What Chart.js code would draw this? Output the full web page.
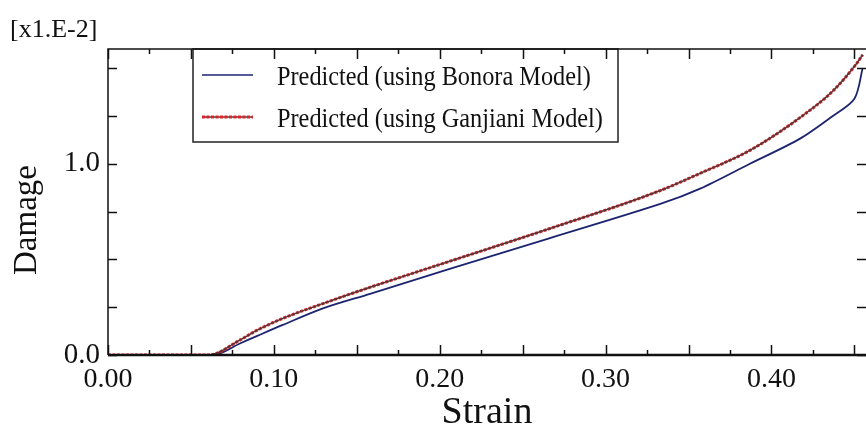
<!DOCTYPE html>
<html>
<head>
<meta charset="utf-8">
<script src="https://cdn.jsdelivr.net/npm/chart.js@4"></script>
<style>
  html, body { margin: 0; padding: 0; background: #fff; }
  #wrap { width: 866px; height: 432px; position: relative; }
</style>
</head>
<body>
<div id="wrap"><canvas id="grafic"></canvas></div>
<script>
// damage values are in units of 1e-2 (see the corner label)
const strainBonora   = [0, 0.064, 0.0795, 0.09, 0.105, 0.13, 0.158, 0.206, 0.266, 0.333, 0.357, 0.387, 0.417, 0.437, 0.450, 0.455];
const damageBonora   = [0, 0,     0.06,   0.10, 0.156, 0.245, 0.32, 0.45,  0.61,  0.79,  0.87,  1.00,  1.13,  1.25,  1.34,  1.50];
const strainGanjiani = [0, 0.061, 0.0795, 0.09, 0.105, 0.13, 0.158, 0.206, 0.266, 0.333, 0.357, 0.387, 0.417, 0.437, 0.451, 0.455];
const damageGanjiani = [0, 0,     0.078,  0.13, 0.19,  0.27, 0.354, 0.49,  0.66,  0.86,  0.95,  1.07,  1.24,  1.38,  1.52,  1.57];

const labelBonora   = 'Predicted (using Bonora Model)';
const labelGanjiani = 'Predicted (using Ganjiani Model)';

const xTickLabels = [0, 0.1, 0.2, 0.3, 0.4];
const yTickLabels = [0, 1];
const xMinorStep = 0.025;
const yMinorStep = 0.25;

const $ = id => document.getElementById(id);
const serif = '"Liberation Serif", "Times New Roman", serif';

const punts = (xs, ys) => xs.map((x, i) => ({ x: x, y: ys[i] }));

const BLUE = '#1c2470';
const RED = '#d8262c';
const DARK_RED = '#5a3434';

// legend, frame with inward ticks, y title and exponent label
const marcPlugin = {
    id: 'marc',
    afterDraw(chart) {
        const ctx = chart.ctx;
        const area = chart.chartArea;
        const sx = chart.scales.x, sy = chart.scales.y;

        ctx.save();

        // legend box
        const lx = 193, ly = area.top, lw = 425, lh = 93;
        ctx.fillStyle = '#fff';
        ctx.fillRect(lx, ly, lw, lh);
        ctx.strokeStyle = '#222';
        ctx.lineWidth = 1.5;
        ctx.strokeRect(lx, ly, lw, lh);

        const files = [
            { text: labelBonora, y: ly + 26, color: BLUE, dash: [] },
            { text: labelGanjiani, y: ly + 68, color: RED, dash: [3, 1.5] }
        ];
        ctx.font = '27px ' + serif;
        ctx.textBaseline = 'middle';
        files.forEach(f => {
            if (f.dash.length) {
                ctx.setLineDash([]);
                ctx.strokeStyle = DARK_RED;
                ctx.lineWidth = 1.5;
                ctx.beginPath(); ctx.moveTo(lx + 9, f.y); ctx.lineTo(lx + 60, f.y); ctx.stroke();
            }
            ctx.setLineDash(f.dash);
            ctx.strokeStyle = f.color;
            ctx.lineWidth = f.dash.length ? 3 : 1.5;
            ctx.beginPath(); ctx.moveTo(lx + 9, f.y); ctx.lineTo(lx + 60, f.y); ctx.stroke();
            ctx.setLineDash([]);
            ctx.fillStyle = '#111';
            ctx.save();
            ctx.translate(lx + 84, f.y + 3);
            ctx.scale(0.9, 1);
            ctx.fillText(f.text, 0, 0);
            ctx.restore();
        });

        // frame
        ctx.strokeStyle = '#111';
        ctx.lineWidth = 1.5;
        ctx.beginPath();
        ctx.moveTo(area.right, area.top);
        ctx.lineTo(area.left, area.top);
        ctx.lineTo(area.left, area.bottom);
        ctx.stroke();
        ctx.lineWidth = 2.5;
        ctx.beginPath();
        ctx.moveTo(area.left, area.bottom);
        ctx.lineTo(area.right, area.bottom);
        ctx.stroke();

        // inward ticks
        ctx.lineWidth = 1.5;
        ctx.beginPath();
        for (let v = 0; v <= sx.max + 1e-9; v += xMinorStep) {
            const px = Math.round(sx.getPixelForValue(v)) + 0.5;
            const llarg = Math.abs(v / 0.05 - Math.round(v / 0.05)) < 1e-6 ? 10 : 5;
            ctx.moveTo(px, area.bottom); ctx.lineTo(px, area.bottom - llarg);
            ctx.moveTo(px, area.top); ctx.lineTo(px, area.top + llarg);
        }
        for (let v = 0; v <= sy.max + 1e-9; v += yMinorStep) {
            const py = Math.round(sy.getPixelForValue(v)) + 0.5;
            ctx.moveTo(area.left, py); ctx.lineTo(area.left + 9, py);
            ctx.moveTo(area.right, py); ctx.lineTo(area.right - 9, py);
        }
        ctx.stroke();

        // y axis title
        ctx.fillStyle = '#111';
        ctx.font = '33px ' + serif;
        ctx.textAlign = 'center';
        ctx.textBaseline = 'alphabetic';
        ctx.save();
        ctx.translate(36, 220);
        ctx.rotate(-Math.PI / 2);
        ctx.fillText('Damage', 0, 0);
        ctx.restore();

        // exponent label
        ctx.font = '26px ' + serif;
        ctx.textAlign = 'left';
        ctx.fillText('[x1.E-2]', 10, 37);

        ctx.restore();
    }
};

function dibuixarGrafic() {
    const ctx = $('grafic').getContext('2d');
    new Chart(ctx, {
        type: 'line',
        data: {
            datasets: [
                {
                    label: labelGanjiani + ' (base)',
                    data: punts(strainGanjiani, damageGanjiani),
                    borderColor: DARK_RED,
                    borderWidth: 1.5,
                    pointRadius: 0,
                    cubicInterpolationMode: 'monotone'
                },
                {
                    label: labelGanjiani,
                    data: punts(strainGanjiani, damageGanjiani),
                    borderColor: RED,
                    borderWidth: 3,
                    borderDash: [3, 1.5],
                    pointRadius: 0,
                    cubicInterpolationMode: 'monotone'
                },
                {
                    label: labelBonora,
                    data: punts(strainBonora, damageBonora),
                    borderColor: BLUE,
                    borderWidth: 1.8,
                    pointRadius: 0,
                    tension: 0.3
                }
            ]
        },
        options: {
            responsive: true,
            maintainAspectRatio: false,
            animation: false,
            layout: { padding: { top: 49, left: 0, right: 0, bottom: 0 } },
            plugins: {
                legend: { display: false },
                tooltip: { enabled: false }
            },
            scales: {
                x: {
                    type: 'linear',
                    min: 0,
                    max: 0.457,
                    grid: { display: false, drawTicks: false },
                    border: { display: false },
                    afterBuildTicks: s => { s.ticks = xTickLabels.map(v => ({ value: v })); },
                    afterFit: s => { s.height = 77; },
                    ticks: {
                        color: '#111',
                        padding: 8,
                        maxRotation: 0,
                        font: { family: serif, size: 28 },
                        callback: v => Number(v).toFixed(2)
                    },
                    title: {
                        display: true,
                        text: 'Strain',
                        color: '#111',
                        font: { family: serif, size: 38, lineHeight: 1.0 },
                        padding: { top: 0, bottom: 0 }
                    }
                },
                y: {
                    type: 'linear',
                    min: 0,
                    max: 1.6,
                    grid: { display: false, drawTicks: false },
                    border: { display: false },
                    afterBuildTicks: s => { s.ticks = yTickLabels.map(v => ({ value: v })); },
                    afterFit: s => { s.width = 108; },
                    ticks: {
                        color: '#111',
                        padding: 8,
                        font: { family: serif, size: 29 },
                        callback: v => Number(v).toFixed(1)
                    }
                }
            }
        },
        plugins: [marcPlugin]
    });
}

document.addEventListener('DOMContentLoaded', dibuixarGrafic);
</script>
</body>
</html>
